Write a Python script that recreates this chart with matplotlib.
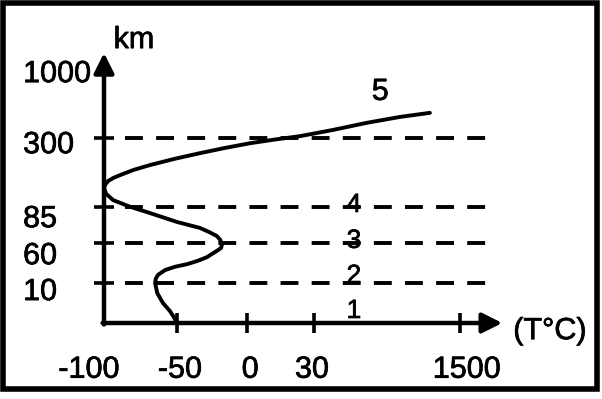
"""Sketch of the vertical temperature profile of the atmosphere (layers 1-5).

The original drawing is a textbook schematic: neither axis is to scale, so the
ticks sit at hand-picked positions and the curve is given in those same units.
"""
import matplotlib
matplotlib.use("Agg")
import matplotlib.pyplot as plt
import matplotlib.patheffects as pe
from matplotlib.patches import Rectangle

plt.rcParams["font.family"] = ["Liberation Sans", "DejaVu Sans"]

# --- data (schematic units) ---
x_labels = ["-100", "-50", "0", "30", "1500"]
x_ticks = [0.0, 1.03, 2.01, 2.96, 5.01]
y_labels = ["10", "60", "85", "300", "1000"]
y_ticks = [1.08, 2.16, 3.14, 5.0, 6.8]

layer_names = ["1", "2", "3", "4", "5"]

curve_x = [1.03, 0.98, 0.93, 0.83, 0.75, 0.72, 0.73, 0.76, 0.86, 1.0, 1.17,
           1.32, 1.45, 1.59, 1.65, 1.66, 1.64, 1.59, 1.48, 1.35, 1.03, 0.65,
           0.37, 0.13, 0.03, 0.0, 0.02, 0.06, 0.13, 0.23, 0.42, 0.65, 1.0,
           1.35, 1.70, 2.06, 2.41, 2.76, 3.23, 3.70, 4.17, 4.59]
curve_y = [0.0, 0.17, 0.32, 0.54, 0.81, 1.08, 1.20, 1.30, 1.43, 1.52, 1.59,
           1.68, 1.78, 1.95, 2.03, 2.11, 2.24, 2.35, 2.46, 2.57, 2.73, 2.97,
           3.14, 3.32, 3.49, 3.65, 3.75, 3.84, 3.92, 4.0, 4.14, 4.27, 4.44,
           4.59, 4.73, 4.86, 4.96, 5.05, 5.22, 5.41, 5.57, 5.68]

# --- layout ---
x_end, y_end = 5.61, 7.3          # arrow tips
dash_start, dash_end = 0.3, 5.44
xlabel_x = [-0.21, 1.07, 2.06, 2.93, 5.11]
xlabel_base = -1.48
ylabel_left = -1.14
ylabel_base = [0.62, 1.59, 2.59, 4.59, 6.51]
layer_pos = [(3.52, 0.135), (3.52, 1.08), (3.52, 2.03), (3.52, 3.0), (3.89, 6.03)]
layer_size = [19, 19, 19, 19, 22]

# scanned print looks a little heavier than plain Liberation Sans
ink = [pe.withStroke(linewidth=0.5, foreground="black")]

fig = plt.figure(figsize=(6.02, 3.99), dpi=100)
ax = fig.add_axes([0, 0, 1, 1])
ax.set_xlim(-1.4648, 7.0141)
ax.set_ylim(-2.054, 8.730)
ax.axis("off")

# outer frame of the scanned figure
fig.add_artist(Rectangle((2.5 / 602, 10 / 399), 594.5 / 602, 386.5 / 399,
                         transform=fig.transFigure, fill=False,
                         lw=4.0, edgecolor="black"))

# layer boundaries
for y in y_ticks[:4]:
    ax.plot([dash_start, dash_end], [y, y], color="black", lw=2.8,
            dashes=(4.6, 3.4), solid_capstyle="butt")

# axes with arrow heads
arrow = dict(arrowstyle="-|>", mutation_scale=30, lw=3.2, color="black",
             shrinkA=0, shrinkB=0)
ax.annotate("", xy=(x_end, 0), xytext=(-0.02, 0), arrowprops=arrow)
ax.annotate("", xy=(0, y_end), xytext=(0, -0.04), arrowprops=arrow)

# tick crosses
ax.plot(x_ticks[1:], [0] * 4, ls="none", marker="|", ms=14.4, mew=2.6,
        color="black")
ax.plot([0] * 4, y_ticks[:4], ls="none", marker="_", ms=14.4, mew=2.6,
        color="black")

# temperature curve
ax.plot(curve_x, curve_y, color="black", lw=2.8, solid_joinstyle="round",
        solid_capstyle="round")

for lab, x in zip(x_labels, xlabel_x):
    ax.text(x, xlabel_base, lab, fontsize=22, ha="center", va="baseline",
            path_effects=ink)
for lab, y in zip(y_labels, ylabel_base):
    ax.text(ylabel_left, y, lab, fontsize=22, ha="left", va="baseline",
            path_effects=ink)

for name, (x, y), fs in zip(layer_names, layer_pos, layer_size):
    ax.text(x, y, name, fontsize=fs, ha="center", va="baseline",
            path_effects=ink)

ax.text(0.42, 7.43, "km", fontsize=22, ha="center", va="baseline",
        path_effects=ink)
ax.text(6.28, -0.22, "(T°C)", fontsize=22, ha="center", va="center",
        path_effects=ink)

fig.savefig("out.png", dpi=100)
